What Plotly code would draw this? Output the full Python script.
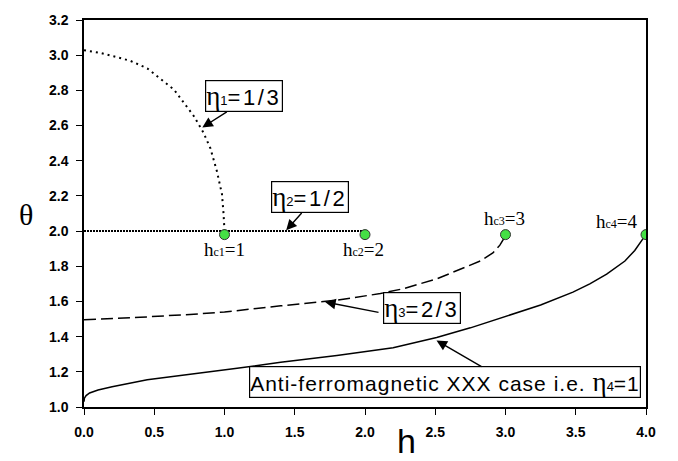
import plotly.graph_objects as go

# ---- data ----
h_eta1 = [0.0, 0.117, 0.21, 0.33, 0.45, 0.54, 0.64, 0.71, 0.78, 0.85, 0.90, 0.946, 0.97, 0.982, 0.993, 1.0]
t_eta1 = [3.028, 3.013, 2.994, 2.968, 2.925, 2.87, 2.805, 2.73, 2.656, 2.56, 2.47, 2.34, 2.248, 2.21, 2.10, 2.0]

h_eta2 = [0.0, 0.5, 1.0, 1.5, 2.0]
t_eta2 = [2.0, 2.0, 2.0, 2.0, 2.0]

h_eta3 = [0.0, 0.4, 0.83, 1.0, 1.4, 1.8, 2.11, 2.27, 2.51, 2.6, 2.72, 2.82, 2.91, 2.96, 2.99, 3.0]
t_eta3 = [1.496, 1.51, 1.53, 1.54, 1.575, 1.607, 1.645, 1.672, 1.728, 1.757, 1.795, 1.83, 1.876, 1.92, 1.96, 1.98]

h_eta4 = [0.0, 0.003, 0.015, 0.04, 0.1, 0.2, 0.45, 0.83, 1.09, 1.4, 1.8, 2.2, 2.51, 2.75, 3.0, 3.25,
          3.48, 3.6, 3.72, 3.85, 3.92, 3.96, 3.99, 4.0]
t_eta4 = [1.03, 1.05, 1.065, 1.08, 1.097, 1.115, 1.155, 1.192, 1.22, 1.255, 1.293, 1.337, 1.395, 1.45,
          1.514, 1.58, 1.653, 1.70, 1.755, 1.83, 1.89, 1.94, 1.97, 1.98]

h_crit = [1.0, 2.0, 3.0, 4.0]
t_crit = [1.98, 1.98, 1.98, 1.98]
crit_labels = ["1", "2", "3", "4"]

x_ticks = [0.0, 0.5, 1.0, 1.5, 2.0, 2.5, 3.0, 3.5, 4.0]
y_ticks = [1.0, 1.2, 1.4, 1.6, 1.8, 2.0, 2.2, 2.4, 2.6, 2.8, 3.0, 3.2]

SERIF = "Liberation Serif"
SANS = "Liberation Sans"


def wide(s, ls):
    return '<span style="letter-spacing:%spx">%s</span>' % (ls, s)


fig = go.Figure()
fig.add_trace(go.Scatter(x=h_eta1, y=t_eta1, mode="lines",
                         line=dict(color="black", width=2, dash="2px,4px"), showlegend=False))
fig.add_trace(go.Scatter(x=h_eta2, y=t_eta2, mode="lines",
                         line=dict(color="black", width=2, dash="2px,1px"), showlegend=False))
fig.add_trace(go.Scatter(x=h_eta3, y=t_eta3, mode="lines",
                         line=dict(color="black", width=1.5, dash="12px,5px"), showlegend=False))
fig.add_trace(go.Scatter(x=h_eta4, y=t_eta4, mode="lines",
                         line=dict(color="black", width=1.5), showlegend=False))
fig.add_trace(go.Scatter(x=h_crit, y=t_crit, mode="markers",
                         marker=dict(size=10, color="#44e044", line=dict(color="#333333", width=1)),
                         showlegend=False))

ann = []
# critical field labels
crit_pos = [(1.0, 1.894), (1.986, 1.894), (2.995, 2.07), (3.794, 2.052)]
for (x, y), lab in zip(crit_pos, crit_labels):
    ann.append(dict(x=x, y=y, xref="x", yref="y", showarrow=False, xanchor="center", yanchor="middle",
                    text='h<span style="font-size:12px">c%s</span>=%s' % (lab, lab),
                    font=dict(family=SERIF, size=19, color="black")))

eta = '<span style="font-family:Liberation Serif;font-size:27px">η</span>'


def sub(n):
    return '<span style="font-size:13px">%s</span>' % n


boxes = [
    (1.140, 2.769, eta + sub("1") + wide("=1/3", 2.6), 22),
    (1.611, 2.191, eta + sub("2") + wide("=1/2", 2.6), 22),
    (2.409, 1.561, eta + sub("3") + wide("=2/3", 2.6), 22),
    (2.572, 1.144, wide("Anti-ferromagnetic XXX case i.e. ", 1.0) + eta + sub("4") + wide("=1", 1.0), 21),
]
for x, y, txt, fs in boxes:
    ann.append(dict(x=x, y=y, xref="x", yref="y", showarrow=False, text=txt,
                    xanchor="center", yanchor="middle",
                    font=dict(family=SANS, size=fs, color="black"),
                    bordercolor="black", borderwidth=1.2, borderpad=0, bgcolor="white"))

arrows = [
    (1.027, 2.683, 0.842, 2.589),
    (1.559, 2.111, 1.439, 2.005),
    (2.107, 1.536, 1.716, 1.597),
    (2.840, 1.224, 2.509, 1.378),
]
for ax, ay, x, y in arrows:
    ann.append(dict(x=x, y=y, ax=ax, ay=ay, xref="x", yref="y", axref="x", ayref="y",
                    text="", showarrow=True, arrowhead=2, arrowsize=1.5, arrowwidth=1.4,
                    arrowcolor="black", standoff=0, startstandoff=0))

# axis titles
ann.append(dict(x=-0.104, y=0.497, xref="paper", yref="paper", text="θ", showarrow=False,
                xanchor="center", yanchor="middle", font=dict(family=SERIF, size=30, color="black")))
ann.append(dict(x=0.573, y=-0.088, xref="paper", yref="paper", text="h", showarrow=False,
                xanchor="center", yanchor="middle", font=dict(family=SANS, size=34, color="black")))

tickfont = dict(family=SANS, size=14, color="black", weight="bold")
fig.update_layout(
    width=678, height=461,
    margin=dict(l=83.5, r=31.5, t=12, b=54, pad=0),
    paper_bgcolor="white", plot_bgcolor="white",
    annotations=ann,
    xaxis=dict(range=[0, 4], tickvals=x_ticks, ticktext=["%.1f" % v for v in x_ticks],
               showgrid=False, zeroline=False, showline=True, linecolor="black", linewidth=1.5,
               mirror=True, ticks="outside", ticklen=6, tickwidth=1.3, tickcolor="black",
               ticklabelstandoff=5, tickfont=tickfont),
    yaxis=dict(range=[1, 3.2], tickvals=y_ticks, ticktext=["%.1f" % v for v in y_ticks],
               showgrid=False, zeroline=False, showline=True, linecolor="black", linewidth=1.5,
               mirror=True, ticks="outside", ticklen=6, tickwidth=1.3, tickcolor="black",
               ticklabelstandoff=5, tickfont=tickfont),
)

fig.write_html("out.html")
